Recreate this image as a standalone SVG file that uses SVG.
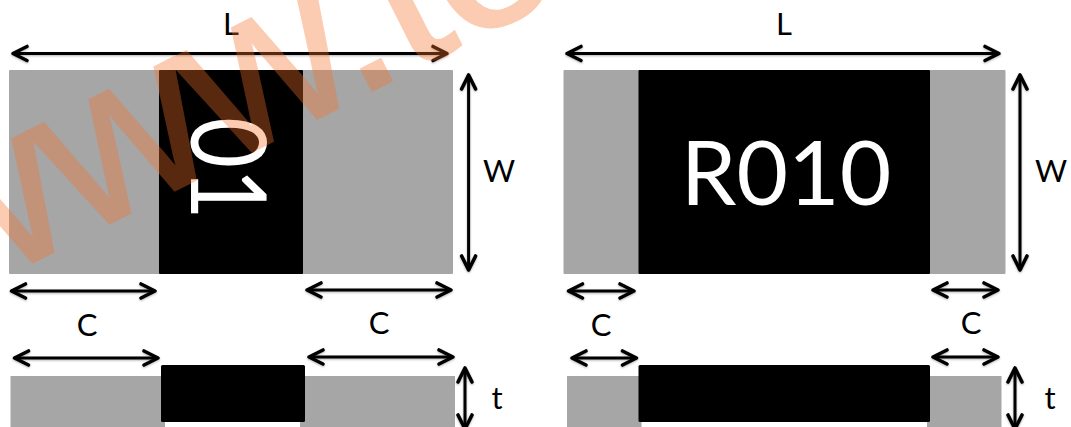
<svg xmlns="http://www.w3.org/2000/svg" width="1071" height="427" viewBox="0 0 1071 427">
<style>
.g{fill:#a6a6a6}
.k{fill:#000}
.a{fill:none;stroke:#000;stroke-width:3;marker-start:url(#h);marker-end:url(#h)}
.t{font-family:Lato,"Open Sans",sans-serif;font-size:31px;fill:#000;text-anchor:middle}
.m{font-family:Lato,"Open Sans",sans-serif;fill:#fff}
.w{font-family:"Liberation Sans",sans-serif;font-size:225px;letter-spacing:-3px;fill:#f4702c;stroke:#f4702c;stroke-width:2.500px;opacity:.36}
</style>
<defs>
<marker id="h" viewBox="-18 -10 20 20" markerUnits="userSpaceOnUse" markerWidth="20" markerHeight="20" refX="-1" refY="0" orient="auto-start-reverse">
<path d="M-15 -7 L-1 0 L-15 7" fill="none" stroke="#000" stroke-width="3.600" stroke-linecap="round" stroke-linejoin="round"/>
</marker>
<filter id="s" x="-5%" y="-30%" width="110%" height="160%"><feDropShadow dx="0" dy="1" stdDeviation="1" flood-color="#000" flood-opacity=".3"/></filter>
</defs>
<g id="left-top">
<rect class="g" x="9" y="70" width="444" height="204" rx="1"/>
<rect class="k" x="159" y="70" width="144" height="204" rx="1"/>
<text class="m" transform="translate(191 117) rotate(90) scale(.85 1)" font-size="104">01</text>
</g>
<g id="right-top">
<rect class="g" x="563.500" y="70" width="442" height="204" rx="1"/>
<rect class="k" x="638.500" y="70" width="291.500" height="204" rx="1"/>
<text class="m" x="786" y="205" font-size="89" text-anchor="middle">R010</text>
</g>
<g id="left-bottom">
<rect class="g" x="10.500" y="376" width="444.500" height="54"/>
<rect x="165" y="420" width="135" height="10" fill="#fff"/>
<rect class="k" x="161" y="365" width="144" height="57" rx="1.500"/>
</g>
<g id="right-bottom">
<rect class="g" x="567" y="376" width="434.500" height="54"/>
<rect x="641.500" y="420" width="285.500" height="10" fill="#fff"/>
<rect class="k" x="638.500" y="365" width="291.500" height="57" rx="1.500"/>
</g>
<g id="connectors" filter="url(#s)">
<path class="a" d="M13 53.500H447"/>
<path class="a" d="M468.600 75V270"/>
<path class="a" d="M11.500 291H155"/>
<path class="a" d="M307 290H451"/>
<path class="a" d="M14.500 358H158"/>
<path class="a" d="M309 357H453"/>
<path class="a" d="M465 368V429"/>
<path class="a" d="M567 53.500H999"/>
<path class="a" d="M1020 75V270"/>
<path class="a" d="M568.500 291H634"/>
<path class="a" d="M933 290H998"/>
<path class="a" d="M572 358H636.500"/>
<path class="a" d="M933 357H998"/>
<path class="a" d="M1015 368V429"/>
</g>
<g id="labels">
<text class="t" x="231" y="35">L</text>
<text class="t" x="784" y="35">L</text>
<text class="t" x="499" y="182">W</text>
<text class="t" x="1051" y="182">W</text>
<text class="t" x="87" y="336">C</text>
<text class="t" x="379" y="334">C</text>
<text class="t" x="601" y="336">C</text>
<text class="t" x="971" y="334">C</text>
<text class="t" x="497" y="409">t</text>
<text class="t" x="1050" y="409">t</text>
</g>
<text class="w" transform="translate(-62 310) rotate(-26.800)">www.to</text>
</svg>
